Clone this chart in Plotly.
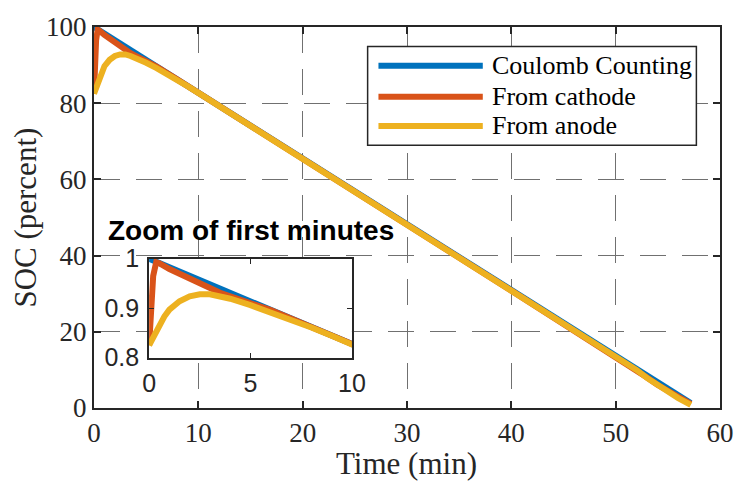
import plotly.graph_objects as go

# ---- data ----
t_cc = [0, 10, 20, 30, 40, 50, 52, 54, 56, 57.2]
soc_cc = [100, 82.7, 65.4, 48.1, 30.8, 13.6, 10.1, 6.7, 3.3, 1.3]

t_cat = [0, 0.1, 0.2, 0.35, 0.5, 1, 1.5, 2, 2.5, 3, 3.5, 4, 4.5, 5, 6, 8, 10,
         20, 30, 40, 50, 52, 53, 54, 55, 56, 57.2]
soc_cat = [82.5, 91, 96.5, 99.3, 99.1, 97.9, 96.9, 95.9, 94.9, 93.9, 93.1, 92.4, 91.7, 91.2, 89.6, 86.2, 82.7,
           65.4, 48.1, 30.8, 13.6, 10.0, 8.0, 6.1, 4.4, 2.8, 1.1]

t_an = [0, 0.25, 0.5, 0.75, 1, 1.5, 2, 2.5, 3, 3.5, 4, 5, 6, 7, 8, 9, 10,
        20, 30, 40, 50, 52, 53, 54, 55, 56, 57.2]
soc_an = [82.5, 84.5, 86.5, 88.3, 89.7, 91.4, 92.4, 92.8, 92.8, 92.4, 91.9, 90.6, 89.2, 87.7, 86.1, 84.4, 82.7,
          65.4, 48.1, 30.8, 13.6, 10.0, 7.9, 6.0, 4.3, 2.6, 0.8]

names = ["Coulomb Counting", "From cathode", "From anode"]
colors = ["#0072BD", "#D95319", "#EDB120"]

x_ticks = [0, 10, 20, 30, 40, 50, 60]
y_ticks = [0, 20, 40, 60, 80, 100]
inset_x_ticks = [0, 5, 10]
inset_y_ticks = [0.8, 0.9, 1.0]
inset_y_text = ["0.8", "0.9", "1"]

series = [(t_cc, soc_cc), (t_cat, soc_cat), (t_an, soc_an)]

fig = go.Figure()
LW = 6
for (t, s), c, n in zip(series, colors, names):
    fig.add_trace(go.Scatter(x=t, y=s, mode="lines", line=dict(color=c, width=LW),
                             name=n, showlegend=False, xaxis="x", yaxis="y"))
for (t, s), c, n in zip(series, colors, names):
    fig.add_trace(go.Scatter(x=t, y=[v / 100 for v in s], mode="lines",
                             line=dict(color=c, width=LW),
                             name=n, showlegend=False, xaxis="x2", yaxis="y2"))

AX = "#262626"
GRID = "#707070"
serif = "Liberation Serif"
sans = "Liberation Sans"

W, H = 746, 486
ml, mr, mt, mb = 94, 16, 15, 78
pw, ph = W - ml - mr, H - mt - mb


def px(x):
    return (x - ml) / pw


def py(y):
    return (H - mb - y) / ph


fig.update_layout(
    width=W, height=H,
    margin=dict(l=ml, r=mr, t=mt, b=mb, pad=0),
    paper_bgcolor="white", plot_bgcolor="white",
    showlegend=False,
    xaxis=dict(range=[0, 60], tickvals=x_ticks, ticks="inside", ticklen=7, tickwidth=1.5,
               tickcolor=AX, showline=True, linecolor=AX, linewidth=2, mirror="ticks",
               showgrid=True, gridcolor=GRID, gridwidth=1.3, griddash="26px,16px",
               zeroline=False, tickfont=dict(family=serif, size=27, color=AX),
               ticklabelstandoff=0, domain=[0, 1]),
    yaxis=dict(range=[0, 100], tickvals=y_ticks, ticks="inside", ticklen=7, tickwidth=1.5,
               tickcolor=AX, showline=True, linecolor=AX, linewidth=2, mirror="ticks",
               showgrid=True, gridcolor=GRID, gridwidth=1.3, griddash="26px,16px",
               zeroline=False, tickfont=dict(family=serif, size=27, color=AX),
               ticklabelstandoff=0, domain=[0, 1]),
    xaxis2=dict(domain=[px(150), px(356)], anchor="y2", range=[0, 10], tickvals=inset_x_ticks,
                ticks="inside", ticklen=5, tickwidth=1.3, tickcolor=AX, showline=True,
                linecolor=AX, linewidth=1.8, mirror="ticks", showgrid=False, zeroline=False,
                tickfont=dict(family=sans, size=25, color=AX), ticklabelstandoff=3),
    yaxis2=dict(domain=[py(356), py(254)], anchor="x2", range=[0.8, 1.0], tickvals=inset_y_ticks,
                ticktext=inset_y_text, ticks="inside", ticklen=5, tickwidth=1.3, tickcolor=AX,
                showline=True, linecolor=AX, linewidth=1.8, mirror="ticks", showgrid=False,
                zeroline=False, tickfont=dict(family=sans, size=25, color=AX),
                ticklabelstandoff=3),
)

shapes = []
annotations = []
# manual legend
shapes.append(dict(type="rect", xref="paper", yref="paper", x0=px(372), x1=px(706),
                   y0=py(137), y1=py(35), fillcolor="white",
                   line=dict(color=AX, width=1.5), layer="above"))
rows = [55, 87, 117]
for c, n, r in zip(colors, names, rows):
    shapes.append(dict(type="line", xref="paper", yref="paper", x0=px(383), x1=px(489),
                       y0=py(r), y1=py(r), line=dict(color=c, width=LW), layer="above"))
    annotations.append(dict(xref="paper", yref="paper", x=px(496), y=py(r), text=n,
                            showarrow=False, xanchor="left", yanchor="middle",
                            font=dict(family=serif, size=26, color="black")))

# axis titles
annotations.append(dict(xref="paper", yref="paper", x=px(411), y=py(465), text="Time (min)",
                        showarrow=False, xanchor="center", yanchor="middle",
                        font=dict(family=serif, size=31, color=AX)))
annotations.append(dict(xref="paper", yref="paper", x=px(24), y=0.5, text="SOC (percent)",
                        showarrow=False, xanchor="center", yanchor="middle", textangle=-90,
                        font=dict(family=serif, size=31, color=AX)))
# inset title
annotations.append(dict(xref="paper", yref="paper", x=px(253.5), y=py(225),
                        text="<b>Zoom of first minutes</b>",
                        showarrow=False, xanchor="center", yanchor="middle",
                        font=dict(family=sans, size=28, color="black")))

fig.update_layout(shapes=shapes, annotations=annotations)
fig.write_html("out.html")
